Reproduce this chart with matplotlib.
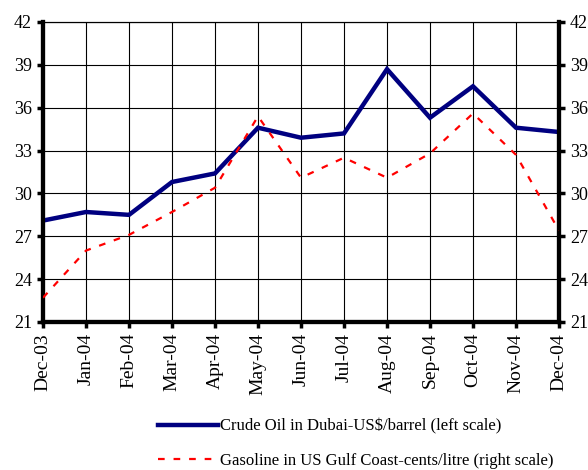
import matplotlib
matplotlib.use("Agg")
import matplotlib.pyplot as plt
from matplotlib.lines import Line2D

plt.rcParams['font.family'] = ['Liberation Serif', 'DejaVu Serif']

months = ['Dec-03', 'Jan-04', 'Feb-04', 'Mar-04', 'Apr-04', 'May-04', 'Jun-04',
          'Jul-04', 'Aug-04', 'Sep-04', 'Oct-04', 'Nov-04', 'Dec-04']
crude = [28.1, 28.7, 28.5, 30.8, 31.4, 34.6, 33.9, 34.2, 38.7, 35.3, 37.5, 34.6, 34.3]
gasoline = [22.7, 26.0, 27.1, 28.7, 30.4, 35.4, 31.1, 32.5, 31.1, 32.8, 35.6, 32.7, 27.4]
yticks = [21, 24, 27, 30, 33, 36, 39, 42]

fig = plt.figure(figsize=(5.88, 4.70), dpi=100)
ax = fig.add_axes([43/588, 1 - 322/470, (559-43)/588, 300/470])
ax2 = ax.twinx()

x = list(range(len(months)))
ax.plot(x, crude, color='#000080', lw=3.2, zorder=3, solid_joinstyle='miter')
ax2.plot(x, gasoline, color='red', lw=1.6, linestyle=(0, (3, 4)), zorder=3)

for a in (ax, ax2):
    a.set_ylim(21, 42)
    a.set_yticks(yticks)
    a.set_xlim(0, len(months) - 1)
    a.tick_params(axis='y', labelsize=13, width=2.5, length=4, direction='out', pad=4)

ax.set_xticks(x)
ax.set_xticklabels(months, rotation=90)
ax.tick_params(axis='x', labelsize=14, width=2.5, length=4, direction='out', pad=4)
ax.grid(True, color='black', lw=0.8)
ax.set_axisbelow(True)
for s in ('left', 'bottom', 'right'):
    ax.spines[s].set_linewidth(3)
    ax2.spines[s].set_linewidth(3)
ax.spines['top'].set_linewidth(0.8)
ax2.spines['top'].set_linewidth(0.8)

handles = [Line2D([], [], color='#000080', lw=3.2),
           Line2D([], [], color='red', lw=1.6, linestyle=(0, (3, 4)))]
labels = ['Crude Oil in Dubai-US$/barrel (left scale)',
          'Gasoline in US Gulf Coast-cents/litre (right scale)']
fig.legend(handles, labels, loc='upper left', bbox_to_anchor=(150/588, 1 - 410/470),
           frameon=False, fontsize=12, handlelength=3.6, handletextpad=0.1,
           labelspacing=1.1, borderpad=0)

fig.savefig('out.png', dpi=100)
